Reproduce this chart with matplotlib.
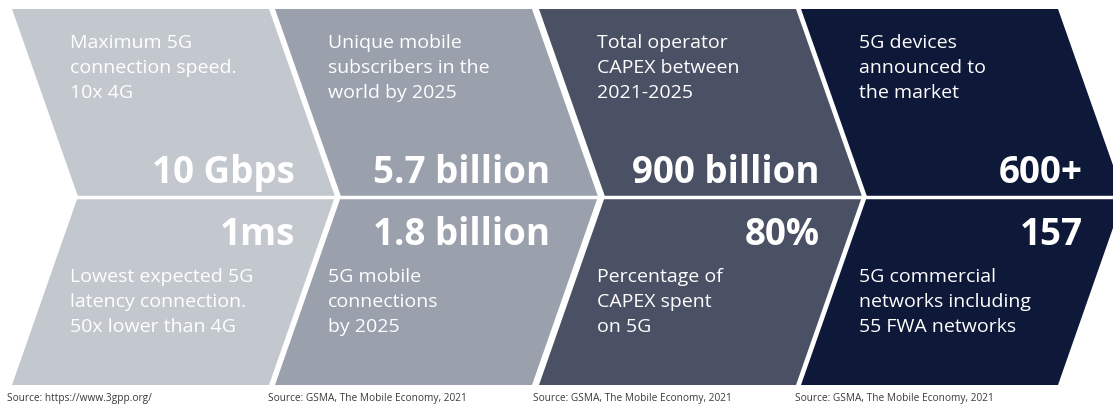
import matplotlib
matplotlib.use("Agg")
import matplotlib.pyplot as plt
from matplotlib.patches import Polygon

# ---- data ----
top_values = ["10 Gbps", "5.7 billion", "900 billion", "600+"]
top_labels = [
    ["Maximum 5G", "connection speed.", "10x 4G"],
    ["Unique mobile", "subscribers in the", "world by 2025"],
    ["Total operator", "CAPEX between", "2021-2025"],
    ["5G devices", "announced to", "the market"],
]
bottom_values = ["1ms", "1.8 billion", "80%", "157"]
bottom_labels = [
    ["Lowest expected 5G", "latency connection.", "50x lower than 4G"],
    ["5G mobile", "connections", "by 2025"],
    ["Percentage of", "CAPEX spent", "on 5G"],
    ["5G commercial", "networks including", "55 FWA networks"],
]
sources = [
    "Source: https://www.3gpp.org/",
    "Source: GSMA, The Mobile Economy, 2021",
    "Source: GSMA, The Mobile Economy, 2021",
    "Source: GSMA, The Mobile Economy, 2021",
]
colors = ["#c3c7ce", "#9aa0ac", "#4b5164", "#0e1838"]

# ---- layout (pixels) ----
W, H = 1113, 413
fig = plt.figure(figsize=(W / 100, H / 100), dpi=100)
ax = fig.add_axes([0, 0, 1, 1])
ax.set_xlim(0, W)
ax.set_ylim(H, 0)
ax.axis("off")

x0s = [12, 275, 539, 801]
pw, depth = 257, 66
ytop, ymid, ybot = 9, 196.5, 385
desc_dx = [58, 53, 58, 58]
val_right = [295, 550, 820, 1083]
src_x = [7, 268, 533, 795]

font = "Open Sans"
desc_fs = 14
val_fs = 26.5

for i, x0 in enumerate(x0s):
    pts = [(x0, ytop), (x0 + pw, ytop), (x0 + pw + depth, ymid),
           (x0 + pw, ybot), (x0, ybot), (x0 + depth, ymid)]
    ax.add_patch(Polygon(pts, closed=True, facecolor=colors[i], edgecolor="none"))
    tx = x0 + desc_dx[i]
    for j, line in enumerate(top_labels[i]):
        ax.text(tx, 48 + 25 * j, line, color="white", fontsize=desc_fs,
                family=font, ha="left", va="baseline")
    ax.text(val_right[i], 183, top_values[i], color="white", fontsize=val_fs,
            family=font, fontweight="bold", ha="right", va="baseline")
    ax.text(val_right[i], 245, bottom_values[i], color="white", fontsize=val_fs,
            family=font, fontweight="bold", ha="right", va="baseline")
    for j, line in enumerate(bottom_labels[i]):
        ax.text(tx, 282 + 25 * j, line, color="white", fontsize=desc_fs,
                family=font, ha="left", va="baseline")
    ax.text(src_x[i], 399, sources[i], color="#3a3a3a", fontsize=7.3,
            family=font, ha="left", va="center")

# horizontal white separator between upper and lower halves
ax.plot([0, W], [ymid, ymid], color="white", lw=2.5, solid_capstyle="butt")

fig.savefig("out.png", dpi=100, facecolor="white")
